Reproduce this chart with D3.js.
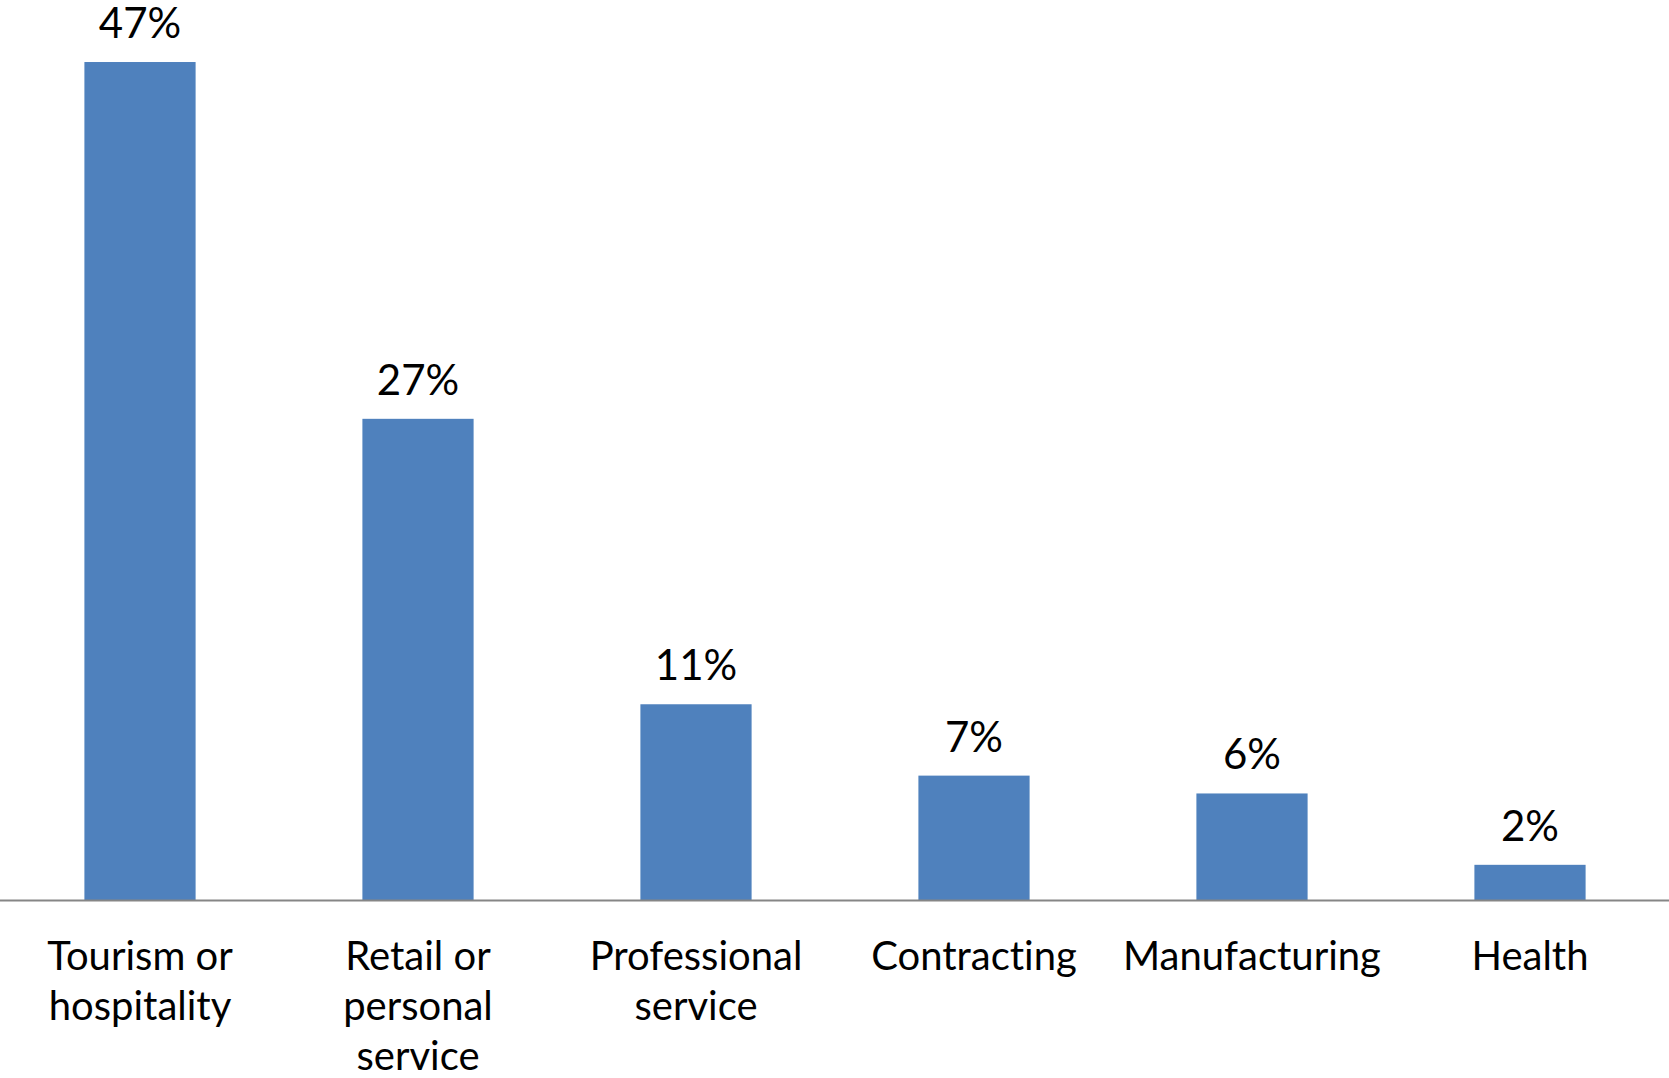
<!DOCTYPE html>
<html>
<head>
<meta charset="utf-8">
<script src="https://cdn.jsdelivr.net/npm/d3@7"></script>
<style>
  html, body { margin: 0; padding: 0; background: #ffffff; }
  svg { display: block; }
  text { font-family: "Lato", "Open Sans", sans-serif; fill: #000000; font-variant-ligatures: none; }
</style>
</head>
<body>
<svg id="chart" width="1669" height="1078"></svg>
<script>
// Sector shares (%)
const categories = ["Tourism or hospitality", "Retail or personal service", "Professional service", "Contracting", "Manufacturing", "Health"];
const categoryLines = [["Tourism or", "hospitality"], ["Retail or", "personal", "service"], ["Professional", "service"], ["Contracting"], ["Manufacturing"], ["Health"]];
const values = [47, 27, 11, 7, 6, 2];
const valueLabels = ["47%", "27%", "11%", "7%", "6%", "2%"];

const width = 1669, height = 1078;
const baseY = 900.5;
const svg = d3.select("#chart");

const x = d3.scaleBand()
  .domain(categories)
  .range([1, width])
  .paddingInner(0.6)
  .paddingOuter(0.3);

const y = d3.scaleLinear()
  .domain([0, 50])
  .range([baseY, 8.5]);

// bars
svg.append("g")
  .selectAll("rect")
  .data(values)
  .join("rect")
  .attr("x", (d, i) => x(categories[i]))
  .attr("y", d => y(d))
  .attr("width", x.bandwidth())
  .attr("height", d => baseY - y(d))
  .attr("fill", "#4f81bd");

// category axis baseline
svg.append("line")
  .attr("x1", 0).attr("x2", width)
  .attr("y1", baseY).attr("y2", baseY)
  .attr("stroke", "#868686")
  .attr("stroke-width", 2);

// value labels
svg.append("g")
  .selectAll("text")
  .data(values)
  .join("text")
  .attr("x", (d, i) => x(categories[i]) + x.bandwidth() / 2)
  .attr("y", d => y(d) - 24)
  .attr("text-anchor", "middle")
  .attr("font-size", 42)
  .text((d, i) => valueLabels[i]);

// category labels, wrapped onto separate lines
const cat = svg.append("g")
  .selectAll("text")
  .data(categories)
  .join("text")
  .attr("x", d => x(d) + x.bandwidth() / 2)
  .attr("y", 970)
  .attr("text-anchor", "middle")
  .attr("font-size", 40);
cat.each(function(d, i) {
  const t = d3.select(this);
  categoryLines[i].forEach((line, k) => {
    t.append("tspan")
      .attr("x", x(d) + x.bandwidth() / 2)
      .attr("y", 970 + k * 50)
      .text(line);
  });
});
</script>
</body>
</html>
